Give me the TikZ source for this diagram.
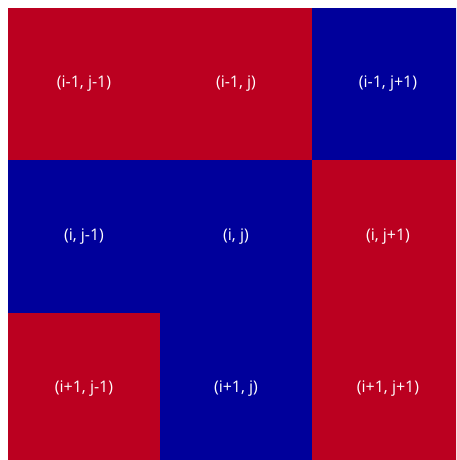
\documentclass[tikz,border=0pt]{standalone}
\usepackage{fontspec}
\setmainfont{Open Sans}
\usepackage{tikz}
\usepackage{xcolor}
\definecolor{cellred}{RGB}{187,0,32}
\definecolor{cellblue}{RGB}{0,0,155}

\begin{document}
\begin{tikzpicture}[x=1pt, y=1pt,
    cell/.style={minimum width=152.4pt, minimum height=152.4pt, inner sep=0pt,
      text=white, font=\fontsize{16}{18}\selectfont},
    redcell/.style={cell, fill=cellred},
    bluecell/.style={cell, fill=cellblue}]
    \useasboundingbox (0,0) rectangle (456,-460);
    \clip (0,0) rectangle (456,-460);
    % top row
    \node[redcell]  (nw) at (84,-84)  {(i-1, j-1)};
    \node[redcell]  (n)  at (236,-84) {(i-1, j)};
    \node[bluecell] (ne) at (388,-84) {(i-1, j+1)};
    % middle row
    \node[bluecell] (w)  at (84,-236.5)  {(i, j-1)};
    \node[bluecell] (c)  at (236,-236.5) {(i, j)};
    \node[redcell]  (e)  at (388,-236.5) {(i, j+1)};
    % bottom row
    \node[redcell]  (sw) at (84,-389)  {(i+1, j-1)};
    \node[bluecell] (s)  at (236,-389) {(i+1, j)};
    \node[redcell]  (se) at (388,-389) {(i+1, j+1)};
\end{tikzpicture}
\end{document}
